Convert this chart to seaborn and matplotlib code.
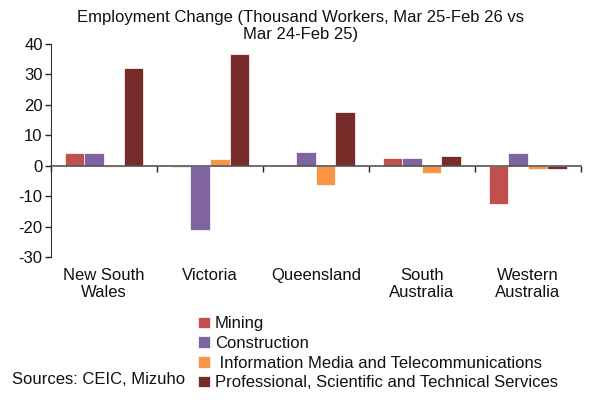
import pandas as pd
import numpy as np
import matplotlib.pyplot as plt
import seaborn as sns
from matplotlib.transforms import blended_transform_factory

states = ["New South\nWales", "Victoria", "Queensland", "South\nAustralia", "Western\nAustralia"]
industries = ["Mining", "Construction", " Information Media and Telecommunications",
              "Professional, Scientific and Technical Services"]
mining = [4.1, -0.5, 0.2, 2.4, -12.4]
construction = [4.3, -21.2, 4.5, 2.6, 4.1]
info_media = [-0.5, 2.3, -6.3, -2.4, -1.2]
professional = [32.2, 36.8, 17.5, 3.3, -1.0]
colors = ["#C0504D", "#8064A2", "#F79646", "#772C2A"]

rows = []
for ind, vals in zip(industries, [mining, construction, info_media, professional]):
    for st, v in zip(states, vals):
        rows.append({"state": st, "industry": ind, "value": v})
df = pd.DataFrame(rows)

sns.set_style("white")
plt.rcParams['font.family'] = ['Liberation Sans', 'DejaVu Sans']
plt.rcParams['axes.unicode_minus'] = False

fig = plt.figure(figsize=(5.89, 4.03), dpi=100)
ax = fig.add_axes([0.0866, 0.362, 0.8994, 0.529])
sns.barplot(data=df, x="state", y="value", hue="industry", order=states,
            hue_order=industries, palette=colors, saturation=1, width=0.74,
            edgecolor="white", linewidth=0.5, ax=ax, legend=True)

ax.set_ylim(-30, 40)
ax.set_xlim(-0.5, 4.5)
ax.set_yticks(range(-30, 41, 10))
ax.tick_params(axis="y", labelsize=12, length=4, width=1, direction="out", left=True,
               pad=2, labelcolor="#111111")
ax.set_xlabel("")
ax.set_ylabel("")
for s in ["top", "right"]:
    ax.spines[s].set_visible(False)
ax.spines["left"].set_color("#333333")
ax.spines["bottom"].set_position(("data", 0))
ax.spines["bottom"].set_color("#555555")
ax.spines["bottom"].set_linewidth(1.2)
ax.set_xticks(np.arange(-0.5, 5.0, 1.0))
ax.set_xticklabels([])
ax.tick_params(axis="x", length=4, width=1, direction="out", bottom=True, color="#222222")

tr = blended_transform_factory(ax.transData, fig.transFigure)
for i, st in enumerate(states):
    ax.text(i, 1 - 268 / 403, st, transform=tr, ha="center", va="top", fontsize=12,
            linespacing=1.2, color="#111111")

handles, labels = ax.get_legend_handles_labels()
ax.get_legend().remove()
fig.legend(handles, labels, loc="upper left", bbox_to_anchor=(0.325, 0.232),
           frameon=False, fontsize=12, handlelength=0.7, handleheight=0.7,
           handletextpad=0.3, labelspacing=0.28, borderaxespad=0, labelcolor="#111111")

fig.text(0.51, 0.975, "Employment Change (Thousand Workers, Mar 25-Feb 26 vs\nMar 24-Feb 25)",
         ha="center", va="top", fontsize=12, linespacing=1.2, color="#111111")
fig.text(12 / 589, 1 - 380 / 403, "Sources: CEIC, Mizuho", ha="left", va="center",
         fontsize=12, color="#111111")

fig.savefig("out.png", dpi=100)
